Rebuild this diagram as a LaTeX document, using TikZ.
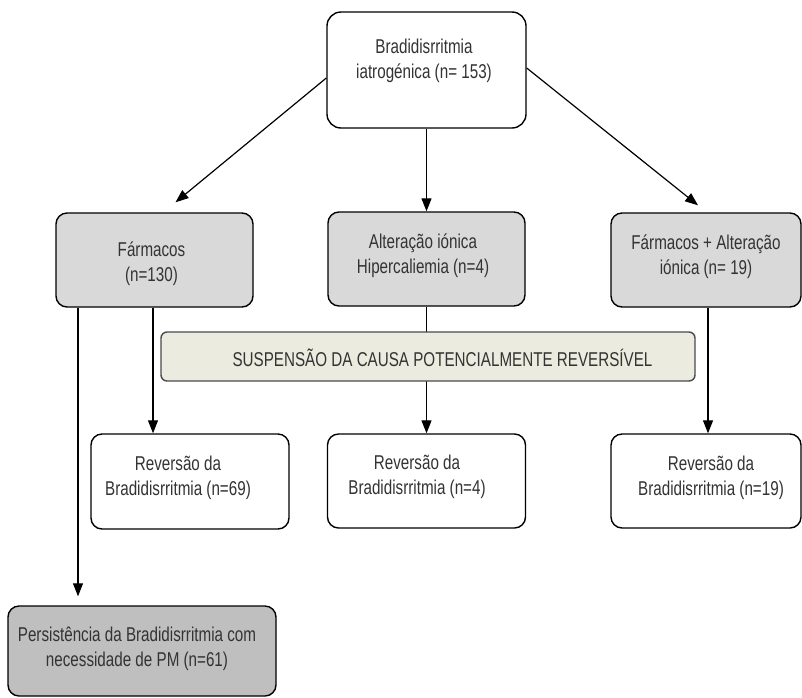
\documentclass[tikz,border=0pt]{standalone}
\usepackage{fontspec}
\setmainfont{Liberation Sans}[FakeStretch=0.76]
\usetikzlibrary{arrows.meta,calc}
\definecolor{boxgray}{HTML}{D9D9D9}
\definecolor{persgray}{HTML}{BFBFBF}
\definecolor{bannerfill}{HTML}{EBEBDF}
\definecolor{textgray}{HTML}{333333}
\definecolor{bannerline}{HTML}{4A4A4A}
\tikzset{
  box/.style={draw=black, line width=1.4pt, rounded corners=11pt, inner sep=0pt},
  graybox/.style={box, fill=boxgray},
  txt/.style={align=center, inner sep=0pt, text=textgray, font=\fontsize{20}{25}\selectfont},
  conn/.style={line width=1.2pt, -{Triangle[length=13pt,width=10pt]}},
}
\newcommand{\ls}{\strut}
\begin{document}
\begin{tikzpicture}[x=1pt,y=-1pt]
\useasboundingbox (0,0) rectangle (802,697);
% boxes
\node[box, fill=white, minimum width=199pt, minimum height=116pt, rounded corners=14pt] (top) at (426.5,70) {};
\node[graybox, minimum width=197pt, minimum height=94pt] (farm) at (154.5,260) {};
\node[graybox, minimum width=197pt, minimum height=94pt] (alt) at (426.5,259) {};
\node[graybox, minimum width=190pt, minimum height=94pt] (fa) at (706,260) {};
\node[box, fill=white, minimum width=198pt, minimum height=95pt] (rev69) at (190,481.5) {};
\node[box, fill=white, minimum width=198pt, minimum height=94pt] (rev4) at (426.5,481) {};
\node[box, fill=white, minimum width=190pt, minimum height=94pt] (rev19) at (706,481) {};
\node[box, fill=persgray, minimum width=268pt, minimum height=90pt] (pers) at (142,651) {};
% connectors
\draw[conn] ($(top.west)+(0,8)$) -- ($(farm.north)+(21,-10)$);
\draw[conn] ($(top.east)+(0,-2)$) -- ($(fa.north)+(-8,-7)$);
\draw[conn] (top.south) -- (alt.north);
\draw[conn] ($(farm.south)+(-76.5,0)$) -- ($(pers.north)+(-64,-9)$);
\draw[conn] ($(farm.south)+(-1.5,0)$) -- ($(rev69.north)+(-37,0)$);
\draw[conn] (alt.south) -- (rev4.north);
\draw[conn] ($(fa.south)+(2,0)$) -- ($(rev19.north)+(2,0)$);
% banner
\node[draw=bannerline, line width=1.4pt, fill=bannerfill, rounded corners=6pt, minimum width=534pt, minimum height=49pt, inner sep=0pt] (banner) at (428,356.5) {};
\node[txt, anchor=base] (bannert) at (442.5,366.7) {SUSPENSÃO DA CAUSA POTENCIALMENTE REVERSÍVEL};
% texts
\node[txt] (topt) at (424,60.8) {\ls Bradidisrritmia\\\ls iatrogénica (n= 153)};
\node[txt] (farmt) at (151.5,263.5) {\ls Fármacos\\\ls (n=130)};
\node[txt] (altt) at (423,255.8) {\ls Alteração iónica\\\ls Hipercaliemia (n=4)};
\node[txt] (fat) at (706,256.5) {\ls Fármacos + Alteração\\\ls iónica (n= 19)};
\node[txt] (rev69t) at (178,478.2) {\ls Reversão da\\\ls Bradidisrritmia (n=69)};
\node[txt] (rev4t) at (417,476.5) {\ls Reversão da\\\ls Bradidisrritmia (n=4)};
\node[txt] (rev19t) at (711,477.5) {\ls Reversão da\\\ls Bradidisrritmia (n=19)};
\node[txt] (perst) at (137,649.2) {\ls Persistência da Bradidisrritmia com\\\ls necessidade de PM (n=61)};
\end{tikzpicture}
\end{document}
